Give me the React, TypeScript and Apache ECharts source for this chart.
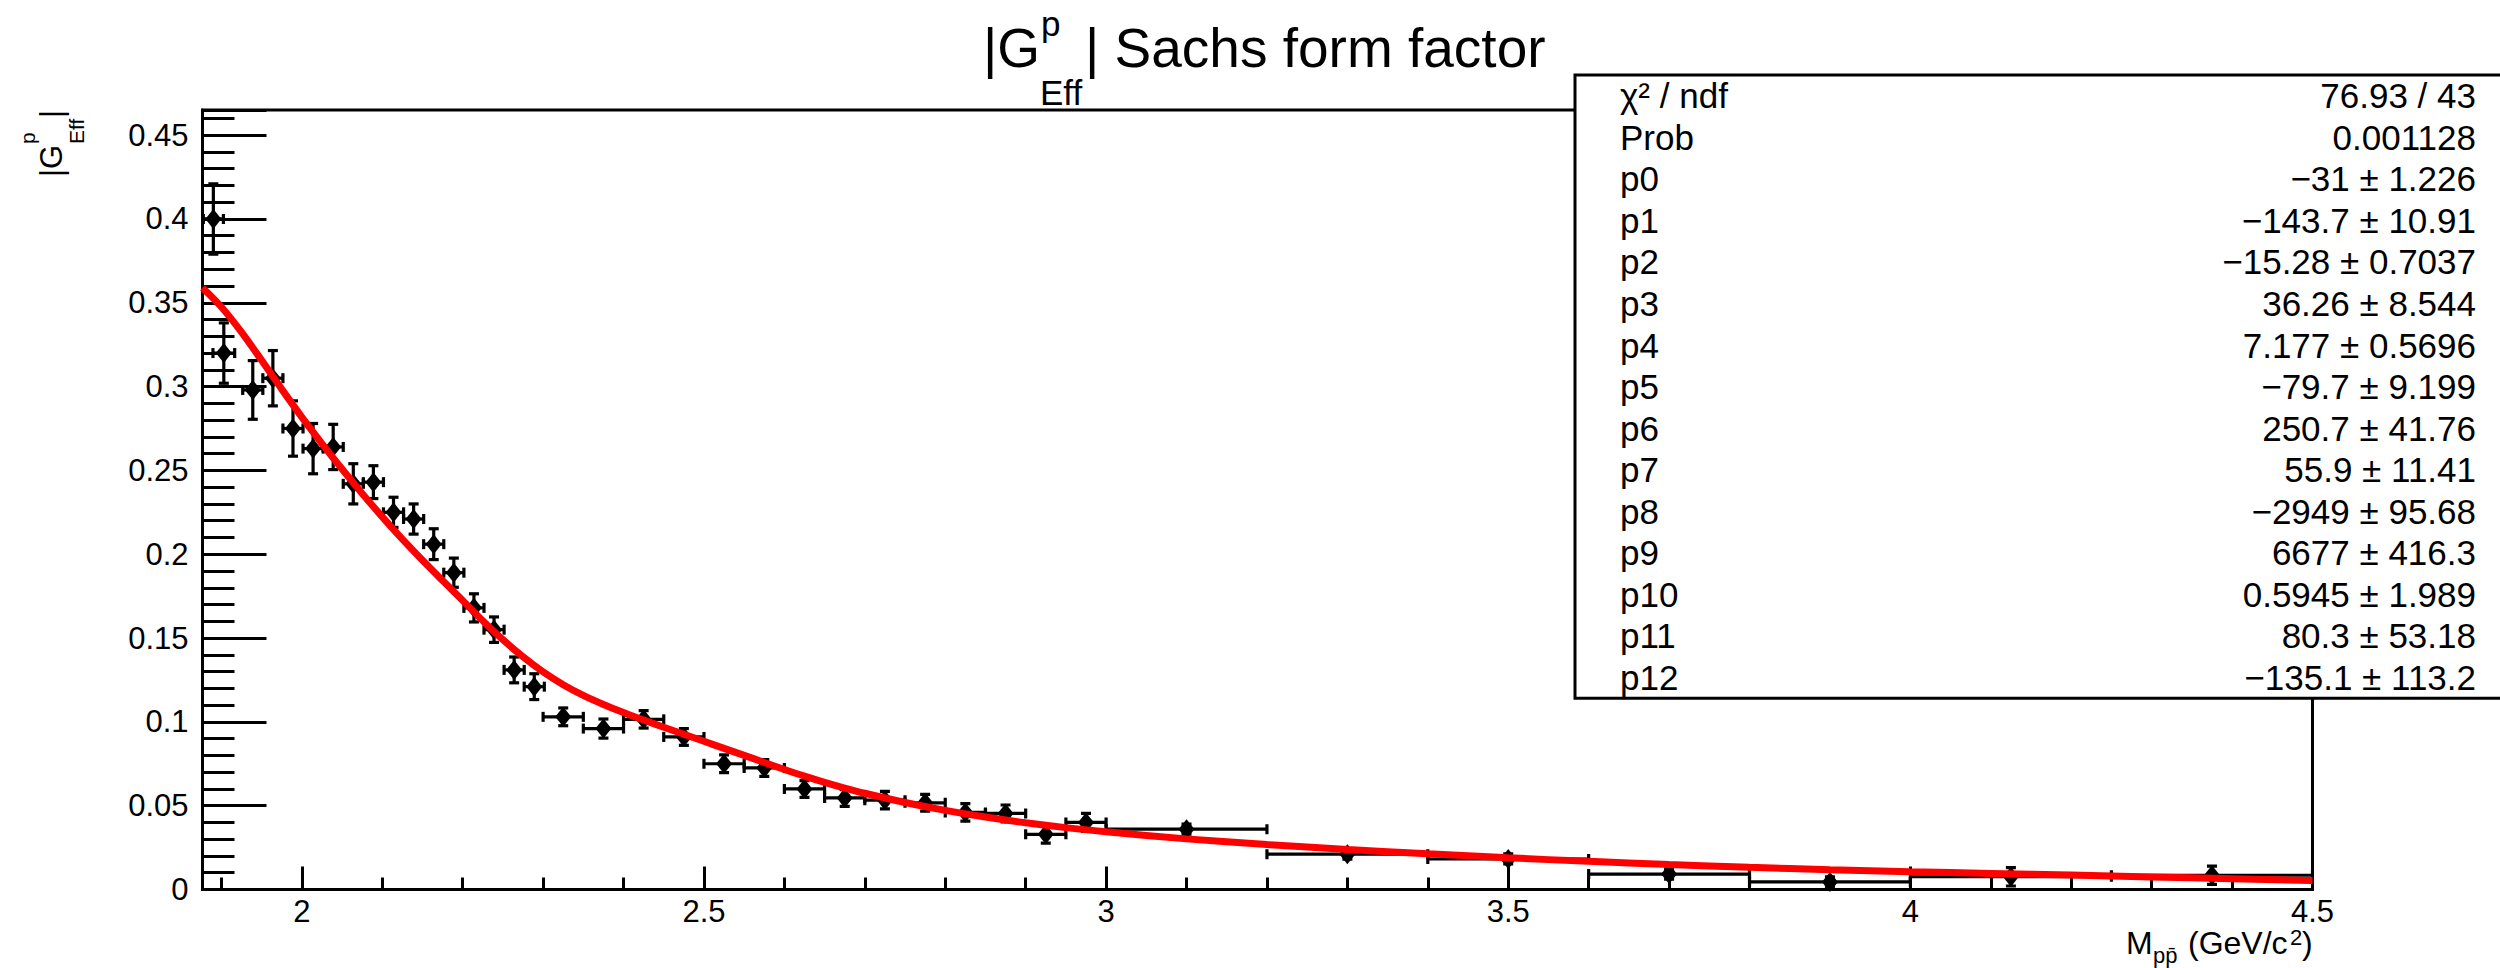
import React, { useEffect, useRef } from "react";
import * as echarts from "echarts";

const FONT = "'Liberation Sans', Arial, Helvetica, sans-serif";

// ---- measured data points (|G_eff^p| vs M_ppbar) ----
const pointX = [
  1.890, 1.903, 1.939, 1.964, 1.989, 2.014, 2.039, 2.064, 2.089, 2.114,
  2.139, 2.164, 2.189, 2.214, 2.239, 2.264, 2.289, 2.325, 2.375, 2.425,
  2.475, 2.525, 2.575, 2.625, 2.675, 2.725, 2.775, 2.825, 2.875, 2.925,
  2.975, 3.1, 3.3, 3.5, 3.7, 3.9, 4.125, 4.375,
];
const pointY = [
  0.400, 0.320, 0.298, 0.305, 0.275, 0.263, 0.264, 0.242, 0.243, 0.225,
  0.221, 0.206, 0.189, 0.168, 0.155, 0.131, 0.121, 0.103, 0.096, 0.1015,
  0.091, 0.075, 0.0725, 0.060, 0.0546, 0.0533, 0.0517, 0.046, 0.0454, 0.0329,
  0.040, 0.036, 0.0211, 0.0182, 0.0092, 0.0045, 0.0076, 0.0085,
];
const pointXErr = [
  0.0125, 0.0135, 0.0125, 0.0125, 0.0125, 0.0125, 0.0125, 0.0125, 0.0125, 0.0125,
  0.0125, 0.0125, 0.0125, 0.0125, 0.0125, 0.0125, 0.0125, 0.025, 0.025, 0.025,
  0.025, 0.025, 0.025, 0.025, 0.025, 0.025, 0.025, 0.025, 0.025, 0.025,
  0.025, 0.1, 0.1, 0.1, 0.1, 0.1, 0.125, 0.125,
];
const pointYErr = [
  0.021, 0.018, 0.0175, 0.0165, 0.0165, 0.015, 0.0135, 0.012, 0.0098, 0.009,
  0.009, 0.0092, 0.0087, 0.0084, 0.0076, 0.0077, 0.0077, 0.0053, 0.0057, 0.0052,
  0.005, 0.0053, 0.005, 0.005, 0.005, 0.0052, 0.005, 0.0052, 0.005, 0.0052,
  0.0054, 0.003, 0.003, 0.003, 0.003, 0.003, 0.0055, 0.0055,
];

// ---- fit curve ----
const fitX = [
  1.8765, 1.9, 1.925, 1.95, 1.975, 2.0, 2.025, 2.05, 2.075, 2.1,
  2.125, 2.15, 2.175, 2.2, 2.225, 2.25, 2.275, 2.3, 2.325, 2.35,
  2.375, 2.4, 2.425, 2.45, 2.475, 2.5, 2.525, 2.55, 2.575, 2.6,
  2.625, 2.65, 2.675, 2.7, 2.75, 2.8, 2.85, 2.9, 2.95, 3.0,
  3.1, 3.2, 3.3, 3.4, 3.5, 3.6, 3.7, 3.8, 3.9, 4.0,
  4.1, 4.2, 4.3, 4.4, 4.5,
];
const fitY = [
  0.359, 0.3475, 0.3325, 0.3157, 0.2985, 0.2818, 0.2660, 0.2508, 0.2363, 0.2223,
  0.2090, 0.1964, 0.1843, 0.1724, 0.1603, 0.1490, 0.1388, 0.1298, 0.1222, 0.1158,
  0.1104, 0.1056, 0.1011, 0.0968, 0.0926, 0.0884, 0.0842, 0.0800, 0.0758, 0.0716,
  0.0676, 0.0639, 0.0605, 0.0574, 0.0519, 0.0472, 0.0432, 0.0398, 0.0369, 0.0344,
  0.0302, 0.0268, 0.0239, 0.0213, 0.0189, 0.0168, 0.0149, 0.0132, 0.0118, 0.0106,
  0.0096, 0.0086, 0.0075, 0.0064, 0.0053,
];

// ---- fit statistics box ----
const statNames = [
  "χ² / ndf", "Prob", "p0", "p1", "p2", "p3", "p4", "p5", "p6", "p7",
  "p8", "p9", "p10", "p11", "p12",
];
const statValues = [
  "76.93 / 43", "0.001128", "−31 ± 1.226", "−143.7 ± 10.91", "−15.28 ± 0.7037",
  "36.26 ± 8.544", "7.177 ± 0.5696", "−79.7 ± 9.199", "250.7 ± 41.76", "55.9 ± 11.41",
  "−2949 ± 95.68", "6677 ± 416.3", "0.5945 ± 1.989", "80.3 ± 53.18", "−135.1 ± 113.2",
];

function txt(text: string, x: number, y: number, size: number, align = "left", rotation = 0) {
  return {
    type: "text",
    x,
    y,
    rotation,
    z: 110,
    silent: true,
    style: {
      text,
      fontSize: size,
      fontFamily: FONT,
      fill: "#000",
      textAlign: align,
      align,
      textVerticalAlign: "middle",
      verticalAlign: "middle",
    },
  };
}

export default function App() {
  const ref = useRef<HTMLDivElement>(null);

  useEffect(() => {
    const chart = echarts.init(ref.current as HTMLDivElement, null, {
      renderer: "svg",
      width: 2500,
      height: 968,
    });

    const errData = pointX.map((x, i) => [x, pointY[i], pointXErr[i], pointYErr[i]]);
    const ptsData = pointX.map((x, i) => [x, pointY[i]]);
    const fitData = fitX.map((x, i) => [x, fitY[i]]);

    const errStyle = { stroke: "#000", lineWidth: 3.2, fill: "none" };
    const cap = 5;

    const renderErr = (_params: any, api: any) => {
      const x = api.value(0);
      const y = api.value(1);
      const ex = api.value(2);
      const ey = api.value(3);
      const c = api.coord([x, y]);
      const l = api.coord([x - ex, y]);
      const r = api.coord([x + ex, y]);
      const t = api.coord([x, y + ey]);
      const b = api.coord([x, y - ey]);
      return {
        type: "group",
        children: [
          { type: "line", shape: { x1: l[0], y1: c[1], x2: r[0], y2: c[1] }, style: errStyle },
          { type: "line", shape: { x1: c[0], y1: t[1], x2: c[0], y2: b[1] }, style: errStyle },
          { type: "line", shape: { x1: l[0], y1: c[1] - cap, x2: l[0], y2: c[1] + cap }, style: errStyle },
          { type: "line", shape: { x1: r[0], y1: c[1] - cap, x2: r[0], y2: c[1] + cap }, style: errStyle },
          { type: "line", shape: { x1: c[0] - cap, y1: t[1], x2: c[0] + cap, y2: t[1] }, style: errStyle },
          { type: "line", shape: { x1: c[0] - cap, y1: b[1], x2: c[0] + cap, y2: b[1] }, style: errStyle },
        ],
      };
    };

    const boxTop = 75;
    const rowH = 41.55;
    const statTexts: any[] = [];
    statNames.forEach((n, i) => {
      const cy = boxTop + rowH * (i + 0.5);
      statTexts.push(txt(n, 1620, cy, 35, "left"));
      statTexts.push(txt(statValues[i], 2476, cy, 35, "right"));
    });

    const axisLineStyle = { color: "#000", width: 3 };

    const option: any = {
      animation: false,
      backgroundColor: "#fff",
      textStyle: { fontFamily: FONT, color: "#000" },
      grid: {
        left: 202.5,
        right: 187.5,
        top: 110,
        bottom: 78.5,
        show: true,
        borderColor: "#000",
        borderWidth: 3,
        backgroundColor: "transparent",
        containLabel: false,
        outerBoundsMode: "none",
      },
      xAxis: {
        type: "value",
        min: 1.8765,
        max: 4.5,
        splitNumber: 5,
        axisLine: { show: true, onZero: false, lineStyle: axisLineStyle },
        axisTick: { show: true, inside: true, length: 23, lineStyle: axisLineStyle },
        minorTick: { show: true, splitNumber: 5, length: 12, lineStyle: axisLineStyle },
        axisLabel: {
          show: true,
          showMinLabel: false,
          showMaxLabel: true,
          margin: 6,
          color: "#000",
          fontSize: 31,
          lineHeight: 31,
          fontFamily: FONT,
        },
        splitLine: { show: false },
        minorSplitLine: { show: false },
      },
      yAxis: {
        type: "value",
        min: 0,
        max: 0.465,
        interval: 0.05,
        axisLine: { show: true, onZero: false, lineStyle: axisLineStyle },
        axisTick: { show: true, inside: true, length: 64, lineStyle: axisLineStyle },
        minorTick: { show: true, splitNumber: 5, length: 32, lineStyle: axisLineStyle },
        axisLabel: {
          show: true,
          showMaxLabel: false,
          margin: 14,
          color: "#000",
          fontSize: 31,
          fontFamily: FONT,
        },
        splitLine: { show: false },
        minorSplitLine: { show: false },
      },
      series: [
        {
          type: "custom",
          name: "errors",
          data: errData,
          encode: { x: 0, y: 1 },
          renderItem: renderErr,
          clip: true,
          z: 2,
          silent: true,
        },
        {
          type: "scatter",
          name: "points",
          data: ptsData,
          symbol: "diamond",
          symbolSize: [16, 20],
          itemStyle: { color: "#000", opacity: 1 },
          z: 3,
          silent: true,
        },
        {
          type: "line",
          name: "fit",
          data: fitData,
          smooth: 0.3,
          showSymbol: false,
          symbol: "none",
          lineStyle: { color: "#ff0000", width: 7 },
          clip: true,
          z: 4,
          silent: true,
        },
      ],
      graphic: [
        // title
        txt("|G", 983, 48, 55, "left"),
        txt("p", 1041, 23, 35, "left"),
        txt("Eff", 1040, 92, 35, "left"),
        txt("| Sachs form factor", 1085, 48, 55, "left"),
        // y axis title (rotated)
        txt("|G", 51.5, 177, 31, "left", Math.PI / 2),
        txt("p", 27, 144, 21, "left", Math.PI / 2),
        txt("Eff", 76, 144, 21, "left", Math.PI / 2),
        txt("|", 51.5, 118, 31, "left", Math.PI / 2),
        // x axis title
        txt("M", 2126, 943, 32, "left"),
        txt("pp̄", 2153, 955.5, 22, "left"),
        txt("(GeV/c", 2188, 943, 32, "left"),
        txt("2", 2290, 937.5, 22, "left"),
        txt(")", 2302, 943, 32, "left"),
        // stats box
        {
          type: "rect",
          z: 100,
          silent: true,
          shape: { x: 1575, y: boxTop, width: 940, height: rowH * 15 },
          style: { fill: "#fff", stroke: "#000", lineWidth: 3 },
        },
        ...statTexts,
      ],
    };

    chart.setOption(option);
    return () => chart.dispose();
  }, []);

  return (
    <div
      ref={ref}
      style={{ position: "fixed", left: 0, top: 0, width: 2500, height: 968, background: "#fff" }}
    />
  );
}
